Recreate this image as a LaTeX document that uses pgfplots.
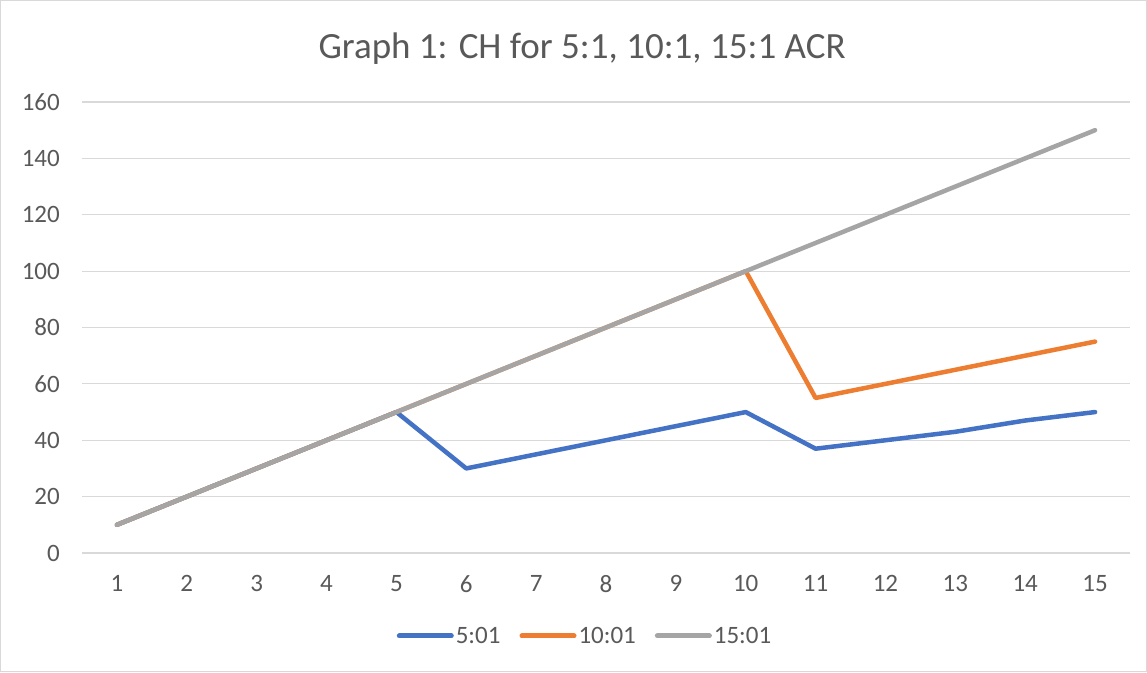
\documentclass[border=0pt]{standalone}
\usepackage{fontspec}
\setmainfont{Carlito}
\usepackage{pgfplots}
\pgfplotsset{compat=1.18}
\definecolor{sA}{HTML}{4472C4}
\definecolor{sB}{HTML}{ED7D31}
\definecolor{sC}{HTML}{A5A5A5}
\definecolor{gridc}{HTML}{D9D9D9}
\definecolor{textc}{HTML}{595959}
\begin{document}
\begin{tikzpicture}[x=1pt,y=1pt]
\path[draw=gridc, line width=1.2pt] (0.6,0.6) rectangle (1146.4,671.4);
\node[anchor=base, text=textc, font=\fontsize{37}{44}\selectfont, inner sep=0] at (582,613) {Graph 1: CH for 5:1, 10:1, 15:1 ACR};
\begin{axis}[
  at={(82pt,119pt)}, anchor=south west,
  scale only axis, width=1048pt, height=451pt,
  xmin=0.5, xmax=15.5, ymin=0, ymax=160,
  xtick={1,...,15}, ytick={0,20,...,160},
  ymajorgrids, grid style={gridc, line width=1.2pt},
  axis line style={draw=none},
  major tick length=0pt,
  /pgf/number format/assume math mode=true,
  tick label style={font=\fontsize{25}{30}\selectfont, text=textc, inner sep=0pt},
  yticklabel style={anchor=east, xshift=-22pt},
  xticklabel style={anchor=north, yshift=-22pt},
  legend columns=-1,
  legend style={draw=none, fill=none, at={(0.48,-0.184)}, anchor=center,
    font=\fontsize{25}{30}\selectfont, text=textc,
    /tikz/every even column/.append style={column sep=17pt}},
  legend image code/.code={\draw[#1, line width=5pt, line cap=round] (0pt,0pt) -- (52pt,0pt);},
  every axis plot/.append style={line width=4.5pt, line cap=round, line join=round, mark=none},
]
\addplot[sA] coordinates {(1,10)(2,20)(3,30)(4,40)(5,50)(6,30)(7,35)(8,40)(9,45)(10,50)(11,37)(12,40)(13,43)(14,47)(15,50)};
\addlegendentry{5:01}
\addplot[sB] coordinates {(1,10)(2,20)(3,30)(4,40)(5,50)(6,60)(7,70)(8,80)(9,90)(10,100)(11,55)(12,60)(13,65)(14,70)(15,75)};
\addlegendentry{10:01}
\addplot[sC] coordinates {(1,10)(2,20)(3,30)(4,40)(5,50)(6,60)(7,70)(8,80)(9,90)(10,100)(11,110)(12,120)(13,130)(14,140)(15,150)};
\addlegendentry{15:01}
\end{axis}
\end{tikzpicture}
\end{document}
